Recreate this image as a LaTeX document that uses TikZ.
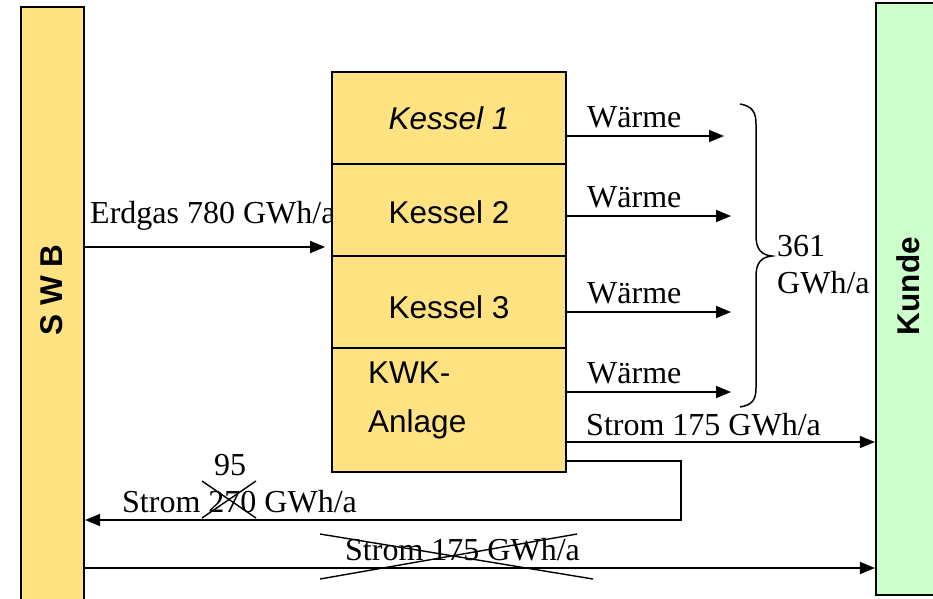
\documentclass[tikz,border=0pt]{standalone}
\usepackage{fontspec}
\setmainfont{Liberation Serif}
\newfontfamily\arialfont{Liberation Sans}
\usetikzlibrary{arrows.meta}
\definecolor{boxyellow}{HTML}{FFE282}
\definecolor{boxgreen}{HTML}{CCFFCC}
\begin{document}
\begin{tikzpicture}[x=1pt,y=-1pt,
  lbl/.style={inner sep=0pt,anchor=base west,font=\fontsize{32}{37}\selectfont},
  boxtxt/.style={font=\arialfont\fontsize{31.5}{36}\selectfont},
  kbox/.style={draw,line width=1.8pt,fill=boxyellow,minimum width=234pt,inner sep=0pt},
  arr/.style={line width=1.7pt,-{Triangle[length=15pt,width=12pt]}},
  cross/.style={line width=1.4pt}]
\useasboundingbox (0,0) rectangle (933,598);
\clip (0,0) rectangle (933,598);
% bars
\node[draw,line width=2.2pt,fill=boxyellow,minimum width=63pt,minimum height=613pt,inner sep=0pt] (swb) at (52.5,313.5) {};
\node[draw,line width=2.2pt,fill=boxgreen,minimum width=74pt,minimum height=592pt,inner sep=0pt] (kunde) at (913,299) {};
\node[rotate=90,inner sep=0pt,font=\arialfont\bfseries\fontsize{31.5}{36}\selectfont] (swbtxt) at (52,290) {S W B};
\node[rotate=90,inner sep=0pt,font=\arialfont\bfseries\fontsize{31.5}{36}\selectfont] (kundetxt) at (908,286) {Kunde};
% Erdgas label (under the box)
\node[lbl] (erdgas) at (90,223) {Erdgas 780 GWh/a};
% Kessel stack
\node[kbox,minimum height=92pt] (k1) at (449,118) {};
\node[kbox,minimum height=92pt] (k2) at (449,210) {};
\node[kbox,minimum height=92pt] (k3) at (449,302) {};
\node[kbox,minimum height=124pt] (kwk) at (449,410) {};
\node[inner sep=0pt,anchor=base,boxtxt] (k1t) at (449,129) {\itshape Kessel 1};
\node[inner sep=0pt,anchor=base,boxtxt] (k2t) at (449,223) {Kessel 2};
\node[inner sep=0pt,anchor=base,boxtxt] (k3t) at (449,318) {Kessel 3};
\node[inner sep=0pt,anchor=base west,boxtxt] (kwk1) at (368,383) {KWK-};
\node[inner sep=0pt,anchor=base west,boxtxt] (kwk2) at (368,432) {Anlage};
% coordinates
\coordinate (w1) at (724,136);
\coordinate (w2) at (731,216);
\coordinate (w3) at (731,312);
\coordinate (w4) at (731,392);
\coordinate (eg) at (0,247);
\coordinate (st) at (0,442);
\coordinate (fb) at (0,461);
\coordinate (fc) at (681,461);
\coordinate (fd) at (681,520);
\coordinate (bt) at (0,568);
% Wärme arrows
\draw[arr] (k1.east |- w1) -- (w1);
\draw[arr] (k2.east |- w2) -- (w2);
\draw[arr] (k3.east |- w3) -- (w3);
\draw[arr] (kwk.east |- w4) -- (w4);
\node[lbl] (wl1) at (587,127) {Wärme};
\node[lbl] (wl2) at (587,207) {Wärme};
\node[lbl] (wl3) at (587,303) {Wärme};
\node[lbl] (wl4) at (587,383) {Wärme};
% brace
\draw[line width=1.5pt] (740,104) .. controls (752,106) and (756,112) .. (756,124)
  -- (756,236) .. controls (756,250) and (762,255) .. (772,256)
  .. controls (762,257) and (756,262) .. (756,276)
  -- (756,388) .. controls (756,400) and (752,405) .. (740,407);
\node[lbl] (sum1) at (777,256) {361};
\node[lbl] (sum2) at (777,293) {GWh/a};
% Erdgas arrow
\draw[arr] (swb.east |- eg) -- ([xshift=-6pt]k2.west |- eg);
% Strom to customer
\draw[arr] (kwk.east |- st) -- (kunde.west |- st);
\node[lbl] (st1) at (586,435) {Strom 175 GWh/a};
% feedback Strom
\draw[arr] (kwk.east |- fb) -- (fc) -- (fd) -- (swb.east |- fd);
\node[lbl] (st2) at (122,512) {Strom 270 GWh/a};
\node[inner sep=0pt,anchor=base,font=\fontsize{32}{37}\selectfont] (n95) at (230,475) {95};
\draw[cross] (202,481) -- (256,518);
\draw[cross] (202,518) -- (256,481);
% bottom arrow (crossed out)
\draw[arr] (swb.east |- bt) -- (kunde.west |- bt);
\node[lbl] (st3) at (345,560) {Strom 175 GWh/a};
\draw[cross] (320,534) -- (593,579);
\draw[cross] (320,579) -- (577,534);
\end{tikzpicture}
\end{document}
